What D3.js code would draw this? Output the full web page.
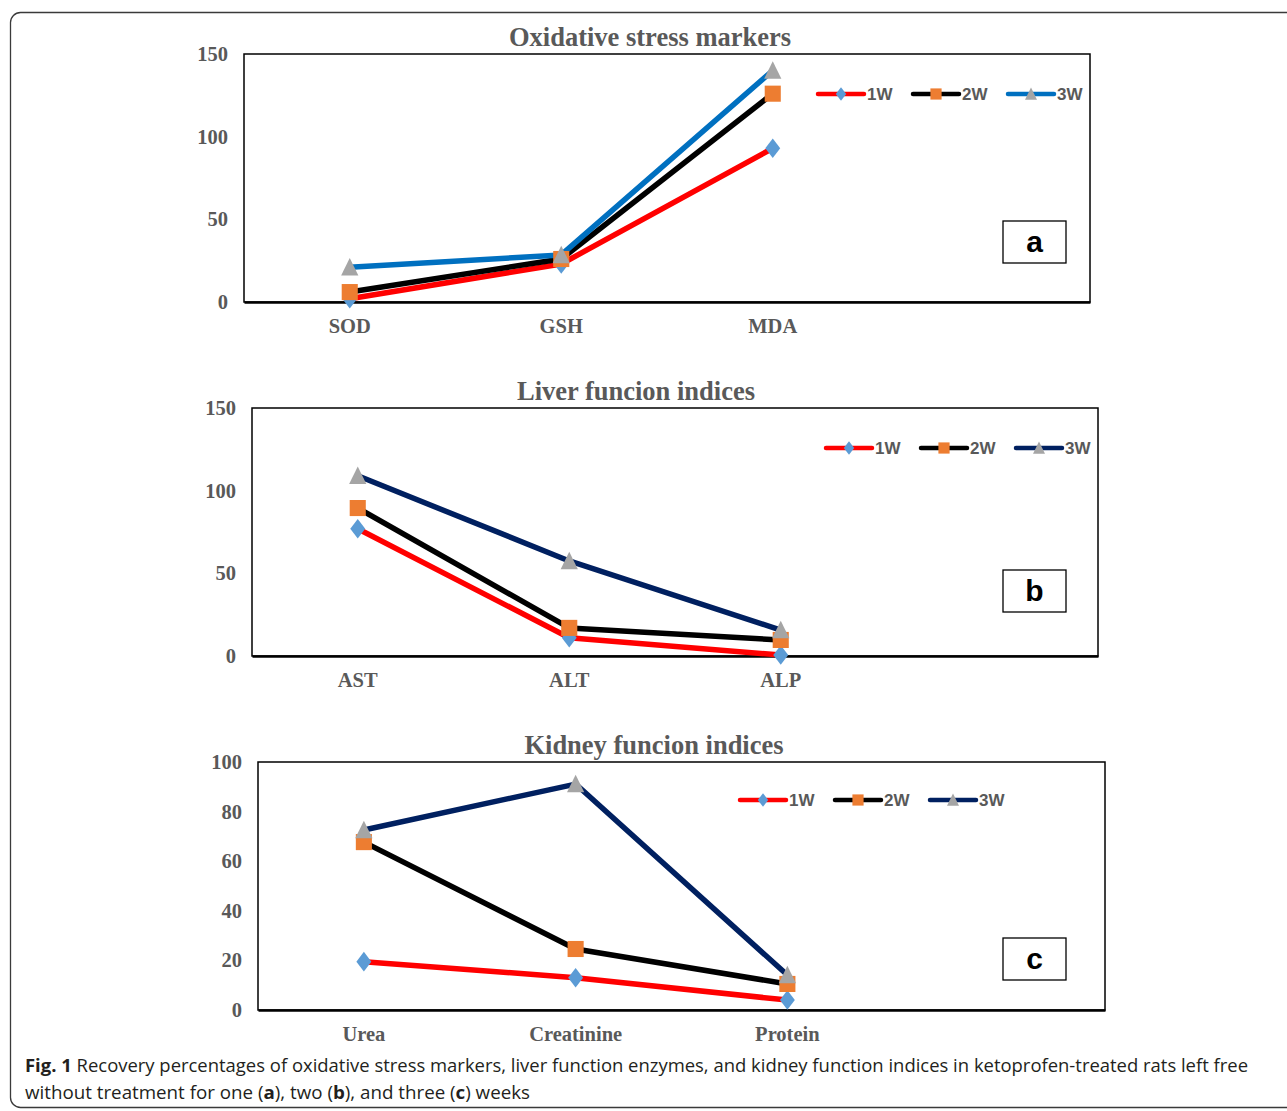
<!DOCTYPE html>
<html>
<head>
<meta charset="utf-8">
<script src="https://cdn.jsdelivr.net/npm/d3@7"></script>
<style>
  body { margin: 0; background: #fff; }
  svg { display: block; }
</style>
</head>
<body>
<div id="wrapper"></div>
<script>
// Series names shared by all three panels
const seriesNames = ["1W", "2W", "3W"];

// Panel a: oxidative stress markers
const oxidativeCategories = ["SOD", "GSH", "MDA"];
const oxidative1W = [2, 23, 93];
const oxidative2W = [6, 26, 126];
const oxidative3W = [21, 28.5, 140];
const oxidativeTicks = [0, 50, 100, 150];

// Panel b: liver function indices
const liverCategories = ["AST", "ALT", "ALP"];
const liver1W = [77, 11, 0.6];
const liver2W = [89.5, 17, 9.7];
const liver3W = [109, 57.5, 15.7];
const liverTicks = [0, 50, 100, 150];

// Panel c: kidney function indices
const kidneyCategories = ["Urea", "Creatinine", "Protein"];
const kidney1W = [19.5, 13, 4];
const kidney2W = [67.7, 24.6, 10.5];
const kidney3W = [72.6, 91.1, 14.1];
const kidneyTicks = [0, 20, 40, 60, 80, 100];

const width = 1287;
const height = 1111;

const svg = d3
  .select("#wrapper")
  .append("svg")
  .attr("width", width)
  .attr("height", height);

// outer frame of the figure
svg
  .append("rect")
  .attr("x", 10.5)
  .attr("y", 12.5)
  .attr("width", 1300)
  .attr("height", 1095)
  .attr("rx", 10)
  .attr("fill", "none")
  .attr("stroke", "#3a3a3a")
  .attr("stroke-width", 1.3);

const markerColors = { "1W": "#5b9bd5", "2W": "#ed7d31", "3W": "#a5a5a5" };
const greyText = "#595959";

function markerPath(name, big) {
  const s = big ? 1.15 : 0.8;
  if (name === "1W") {
    const w = 6.5 * s, h = 8.5 * s;
    return `M0,${-h}L${w},0L0,${h}L${-w},0Z`;
  }
  if (name === "2W") {
    const a = 7 * s;
    return `M${-a},${-a}H${a}V${a}H${-a}Z`;
  }
  const w = 7.5 * s, h = 8 * s;
  return `M0,${-h}L${w},${h * 0.9}L${-w},${h * 0.9}Z`;
}

function drawPanel(p) {
  const g = svg.append("g").attr("transform", `translate(${p.left},${p.top})`);

  const xScale = d3
    .scaleBand()
    .domain([...p.categories, "_"])
    .range([0, p.width]);

  const yScale = d3
    .scaleLinear()
    .domain([0, d3.max(p.ticks)])
    .range([p.height, 0]);

  // plot box
  g.append("rect")
    .attr("width", p.width)
    .attr("height", p.height)
    .attr("fill", "none")
    .attr("stroke", "#000")
    .attr("stroke-width", 1.5);

  // y axis labels
  const yAxis = g
    .append("g")
    .call(d3.axisLeft(yScale).tickValues(p.ticks).tickSize(0).tickPadding(16));
  yAxis.select(".domain").remove();
  yAxis
    .selectAll("text")
    .attr("fill", greyText)
    .style("font-family", "'Liberation Serif', serif")
    .style("font-weight", "bold")
    .style("font-size", "20.5px");

  // x axis
  const xAxis = g
    .append("g")
    .attr("transform", `translate(0,${p.height})`)
    .call(
      d3.axisBottom(xScale).tickValues(p.categories).tickSize(0).tickPadding(16)
    );
  xAxis.select(".domain").attr("stroke", "#000").attr("stroke-width", 2.5);
  xAxis
    .selectAll("text")
    .attr("fill", greyText)
    .style("font-family", "'Liberation Serif', serif")
    .style("font-weight", "bold")
    .style("font-size", "20.5px");

  const cx = (c) => xScale(c) + xScale.bandwidth() / 2;

  const line = d3
    .line()
    .x((d) => cx(d.cat))
    .y((d) => yScale(d.value));

  const series = seriesNames.map((name, i) => ({
    name,
    color: p.lineColors[i],
    points: p.categories.map((cat, j) => ({ cat, value: p.values[i][j] })),
  }));

  g.selectAll(".series-line")
    .data(series)
    .join("path")
    .attr("class", "series-line")
    .attr("d", (s) => line(s.points))
    .attr("fill", "none")
    .attr("stroke", (s) => s.color)
    .attr("stroke-width", 5.5)
    .attr("stroke-linejoin", "round");

  series.forEach((s) => {
    g.selectAll(null)
      .data(s.points)
      .join("path")
      .attr("transform", (d) => `translate(${cx(d.cat)},${yScale(d.value)})`)
      .attr("d", markerPath(s.name, true))
      .attr("fill", markerColors[s.name]);
  });

  // legend
  const legend = g
    .append("g")
    .attr("transform", `translate(${p.legendX},${p.legendY})`);
  series.forEach((s, i) => {
    const item = legend.append("g").attr("transform", `translate(${i * 95},0)`);
    item
      .append("line")
      .attr("x1", 0)
      .attr("x2", 46)
      .attr("stroke", s.color)
      .attr("stroke-width", 4.5)
      .attr("stroke-linecap", "round");
    item
      .append("path")
      .attr("transform", "translate(23,0)")
      .attr("d", markerPath(s.name, false))
      .attr("fill", markerColors[s.name]);
    item
      .append("text")
      .attr("x", 49)
      .attr("y", 6)
      .attr("fill", greyText)
      .style("font-family", "'Liberation Sans', sans-serif")
      .style("font-weight", "bold")
      .style("font-size", "17px")
      .text(s.name);
  });

  // title
  svg
    .append("text")
    .attr("x", p.titleX)
    .attr("y", p.top - 8)
    .attr("text-anchor", "middle")
    .attr("fill", greyText)
    .style("font-family", "'Liberation Serif', serif")
    .style("font-weight", "bold")
    .style("font-size", "26.5px")
    .text(p.title);

  // panel letter box
  const box = svg
    .append("g")
    .attr("transform", `translate(${p.boxX},${p.boxY})`);
  box
    .append("rect")
    .attr("width", 63)
    .attr("height", 42)
    .attr("fill", "#fff")
    .attr("stroke", "#000")
    .attr("stroke-width", 1.3);
  box
    .append("text")
    .attr("x", 31.5)
    .attr("y", 31)
    .attr("text-anchor", "middle")
    .attr("fill", "#000")
    .style("font-family", "'Liberation Sans', sans-serif")
    .style("font-weight", "bold")
    .style("font-size", "30px")
    .text(p.letter);
}

drawPanel({
  title: "Oxidative stress markers",
  titleX: 650,
  categories: oxidativeCategories,
  values: [oxidative1W, oxidative2W, oxidative3W],
  ticks: oxidativeTicks,
  lineColors: ["#ff0000", "#000000", "#0070c0"],
  left: 244,
  top: 54,
  width: 846,
  height: 248,
  legendX: 574,
  legendY: 40,
  boxX: 1003,
  boxY: 221,
  letter: "a",
});

drawPanel({
  title: "Liver funcion indices",
  titleX: 636,
  categories: liverCategories,
  values: [liver1W, liver2W, liver3W],
  ticks: liverTicks,
  lineColors: ["#ff0000", "#000000", "#002060"],
  left: 252,
  top: 408,
  width: 846,
  height: 248,
  legendX: 574,
  legendY: 40,
  boxX: 1003,
  boxY: 570,
  letter: "b",
});

drawPanel({
  title: "Kidney funcion indices",
  titleX: 654,
  categories: kidneyCategories,
  values: [kidney1W, kidney2W, kidney3W],
  ticks: kidneyTicks,
  lineColors: ["#ff0000", "#000000", "#002060"],
  left: 258,
  top: 762,
  width: 847,
  height: 248,
  legendX: 482,
  legendY: 38,
  boxX: 1003,
  boxY: 938,
  letter: "c",
});

// caption
const caption = svg
  .append("g")
  .style("font-family", "'Open Sans', sans-serif")
  .style("font-size", "18.5px")
  .attr("fill", "#231f20");

const line1 = caption
  .append("text")
  .attr("x", 25)
  .attr("y", 1072)
  .attr("textLength", 1223)
  .attr("lengthAdjust", "spacingAndGlyphs");
line1.append("tspan").style("font-weight", "bold").text("Fig. 1");
line1
  .append("tspan")
  .text(
    " Recovery percentages of oxidative stress markers, liver function enzymes, and kidney function indices in ketoprofen-treated rats left free"
  );

const line2 = caption
  .append("text")
  .attr("x", 25)
  .attr("y", 1099)
  .attr("textLength", 505)
  .attr("lengthAdjust", "spacingAndGlyphs");
[
  ["without treatment for one (", false],
  ["a", true],
  ["), two (", false],
  ["b", true],
  ["), and three (", false],
  ["c", true],
  [") weeks", false],
].forEach(([t, b]) => {
  line2
    .append("tspan")
    .style("font-weight", b ? "bold" : "normal")
    .text(t);
});
</script>
</body>
</html>
